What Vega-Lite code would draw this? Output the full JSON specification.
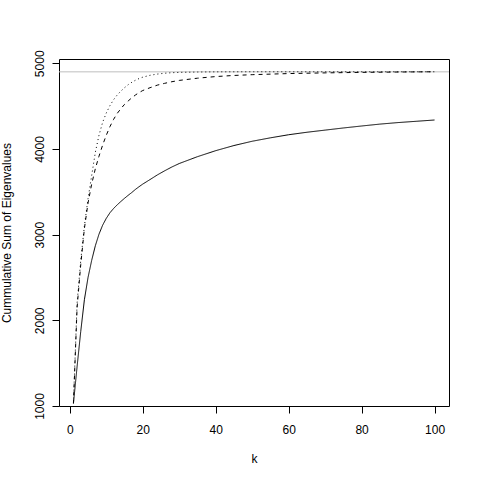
{
  "$schema": "https://vega.github.io/schema/vega-lite/v6.json",
  "autosize": {"type": "none"},
  "width": 390,
  "height": 347,
  "padding": {"left": 59, "top": 59, "right": 31, "bottom": 74},
  "background": "white",
  "config": {
    "view": {"stroke": "#000000", "strokeWidth": 1},
    "font": "Liberation Sans"
  },
  "datasets": {
    "curves": [
      {"k": 1, "v": 1030, "s": "solid"}, {"k": 2, "v": 1460, "s": "solid"}, {"k": 3, "v": 1870, "s": "solid"},
      {"k": 4, "v": 2240, "s": "solid"}, {"k": 5, "v": 2500, "s": "solid"}, {"k": 6, "v": 2700, "s": "solid"},
      {"k": 7, "v": 2870, "s": "solid"}, {"k": 8, "v": 3005, "s": "solid"}, {"k": 9, "v": 3110, "s": "solid"},
      {"k": 10, "v": 3190, "s": "solid"}, {"k": 11, "v": 3255, "s": "solid"}, {"k": 12, "v": 3305, "s": "solid"},
      {"k": 13, "v": 3348, "s": "solid"}, {"k": 14, "v": 3387, "s": "solid"}, {"k": 15, "v": 3424, "s": "solid"},
      {"k": 16, "v": 3459, "s": "solid"}, {"k": 17, "v": 3492, "s": "solid"}, {"k": 18, "v": 3528, "s": "solid"},
      {"k": 19, "v": 3560, "s": "solid"}, {"k": 20, "v": 3590, "s": "solid"}, {"k": 22, "v": 3643, "s": "solid"},
      {"k": 24, "v": 3697, "s": "solid"}, {"k": 26, "v": 3745, "s": "solid"}, {"k": 28, "v": 3790, "s": "solid"},
      {"k": 30, "v": 3830, "s": "solid"}, {"k": 35, "v": 3910, "s": "solid"}, {"k": 40, "v": 3980, "s": "solid"},
      {"k": 45, "v": 4040, "s": "solid"}, {"k": 50, "v": 4090, "s": "solid"}, {"k": 55, "v": 4130, "s": "solid"},
      {"k": 60, "v": 4166, "s": "solid"}, {"k": 65, "v": 4195, "s": "solid"}, {"k": 70, "v": 4220, "s": "solid"},
      {"k": 75, "v": 4245, "s": "solid"}, {"k": 80, "v": 4268, "s": "solid"}, {"k": 85, "v": 4290, "s": "solid"},
      {"k": 90, "v": 4308, "s": "solid"}, {"k": 95, "v": 4323, "s": "solid"}, {"k": 100, "v": 4338, "s": "solid"},

      {"k": 1, "v": 1030, "s": "dashed"}, {"k": 2, "v": 2150, "s": "dashed"}, {"k": 3, "v": 2650, "s": "dashed"},
      {"k": 4, "v": 3070, "s": "dashed"}, {"k": 5, "v": 3370, "s": "dashed"}, {"k": 6, "v": 3590, "s": "dashed"},
      {"k": 7, "v": 3770, "s": "dashed"}, {"k": 8, "v": 3915, "s": "dashed"}, {"k": 9, "v": 4045, "s": "dashed"},
      {"k": 10, "v": 4160, "s": "dashed"}, {"k": 11, "v": 4260, "s": "dashed"}, {"k": 12, "v": 4345, "s": "dashed"},
      {"k": 13, "v": 4415, "s": "dashed"}, {"k": 14, "v": 4470, "s": "dashed"}, {"k": 15, "v": 4520, "s": "dashed"},
      {"k": 16, "v": 4560, "s": "dashed"}, {"k": 17, "v": 4597, "s": "dashed"}, {"k": 18, "v": 4630, "s": "dashed"},
      {"k": 19, "v": 4658, "s": "dashed"}, {"k": 20, "v": 4682, "s": "dashed"}, {"k": 22, "v": 4715, "s": "dashed"},
      {"k": 24, "v": 4745, "s": "dashed"}, {"k": 26, "v": 4766, "s": "dashed"}, {"k": 28, "v": 4785, "s": "dashed"},
      {"k": 30, "v": 4800, "s": "dashed"}, {"k": 35, "v": 4826, "s": "dashed"}, {"k": 40, "v": 4845, "s": "dashed"},
      {"k": 45, "v": 4858, "s": "dashed"}, {"k": 50, "v": 4867, "s": "dashed"}, {"k": 60, "v": 4880, "s": "dashed"},
      {"k": 70, "v": 4888, "s": "dashed"}, {"k": 80, "v": 4894, "s": "dashed"}, {"k": 90, "v": 4898, "s": "dashed"},
      {"k": 100, "v": 4901, "s": "dashed"},

      {"k": 1, "v": 1040, "s": "dotted"}, {"k": 2, "v": 2200, "s": "dotted"}, {"k": 3, "v": 2700, "s": "dotted"},
      {"k": 4, "v": 3100, "s": "dotted"}, {"k": 5, "v": 3420, "s": "dotted"}, {"k": 6, "v": 3690, "s": "dotted"},
      {"k": 7, "v": 3960, "s": "dotted"}, {"k": 8, "v": 4160, "s": "dotted"}, {"k": 9, "v": 4310, "s": "dotted"},
      {"k": 10, "v": 4420, "s": "dotted"}, {"k": 11, "v": 4505, "s": "dotted"}, {"k": 12, "v": 4575, "s": "dotted"},
      {"k": 13, "v": 4630, "s": "dotted"}, {"k": 14, "v": 4675, "s": "dotted"}, {"k": 15, "v": 4715, "s": "dotted"},
      {"k": 16, "v": 4750, "s": "dotted"}, {"k": 17, "v": 4778, "s": "dotted"}, {"k": 18, "v": 4802, "s": "dotted"},
      {"k": 19, "v": 4822, "s": "dotted"}, {"k": 20, "v": 4838, "s": "dotted"}, {"k": 22, "v": 4860, "s": "dotted"},
      {"k": 24, "v": 4874, "s": "dotted"}, {"k": 26, "v": 4884, "s": "dotted"}, {"k": 28, "v": 4890, "s": "dotted"},
      {"k": 30, "v": 4894, "s": "dotted"}, {"k": 35, "v": 4898, "s": "dotted"}, {"k": 40, "v": 4900, "s": "dotted"},
      {"k": 50, "v": 4901, "s": "dotted"}, {"k": 100, "v": 4901, "s": "dotted"}
    ],
    "total": [{"v": 4900}]
  },
  "layer": [
    {
      "data": {"name": "total"},
      "mark": {"type": "rule", "color": "#bebebe", "strokeWidth": 1},
      "encoding": {
        "y": {"field": "v", "type": "quantitative"}
      }
    },
    {
      "data": {"name": "curves"},
      "mark": {"type": "line", "color": "#000000", "strokeWidth": 1, "clip": true},
      "encoding": {
        "x": {
          "field": "k", "type": "quantitative",
          "scale": {"domain": [-2.96, 103.96], "nice": false, "zero": false},
          "axis": {
            "title": "k", "values": [0, 20, 40, 60, 80, 100], "format": "d", "grid": false, "domain": false,
            "tickSize": 7, "tickColor": "#000000", "tickWidth": 1,
            "labelFontSize": 12, "labelColor": "#000000", "labelFont": "Liberation Sans",
            "labelBaseline": "alphabetic", "labelPadding": 20,
            "titleFontSize": 12, "titleFontWeight": "normal", "titleColor": "#000000", "titleFont": "Liberation Sans",
            "titleBaseline": "alphabetic", "titleY": 56, "titleX": 195, "titleAlign": "center"
          }
        },
        "y": {
          "field": "v", "type": "quantitative",
          "scale": {"domain": [1000, 5050], "nice": false, "zero": false},
          "axis": {
            "title": "Cummulative Sum of Eigenvalues", "values": [1000, 2000, 3000, 4000, 5000], "format": "d", "grid": false, "domain": false,
            "tickSize": 7, "tickColor": "#000000", "tickWidth": 1,
            "labelFontSize": 12, "labelColor": "#000000", "labelFont": "Liberation Sans",
            "labelAngle": -90, "labelAlign": "center", "labelBaseline": "alphabetic", "labelPadding": 9,
            "titleFontSize": 12, "titleFontWeight": "normal", "titleColor": "#000000", "titleFont": "Liberation Sans",
            "titleAngle": -90, "titleBaseline": "alphabetic", "titleAlign": "center", "titleX": -48.7, "titleY": 173.5
          }
        },
        "strokeDash": {
          "field": "s", "type": "nominal",
          "scale": {"domain": ["solid", "dashed", "dotted"], "range": [[1, 0], [4, 4], [1, 3]]},
          "legend": null
        }
      }
    }
  ]
}
